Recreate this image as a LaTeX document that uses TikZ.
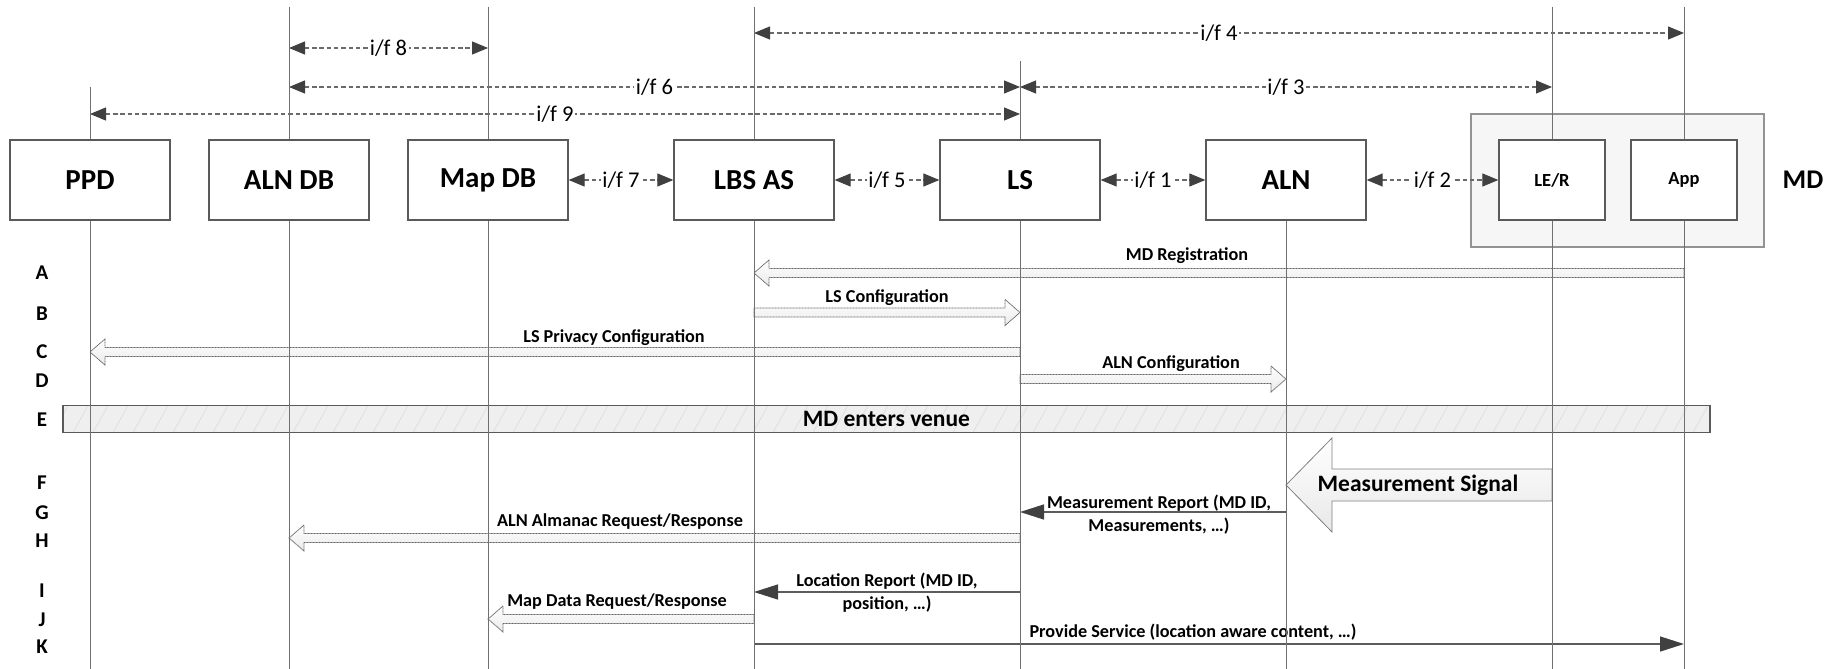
\documentclass[tikz,border=0pt]{standalone}
\usepackage{fontspec}
\setmainfont{Carlito}
\usetikzlibrary{arrows.meta,calc}

\definecolor{edge}{HTML}{5A5A5A}
\definecolor{life}{HTML}{707070}
\definecolor{msgline}{HTML}{5C5C5C}
\definecolor{tipgray}{HTML}{404040}
\definecolor{dashgray}{HTML}{6A6A6A}
\definecolor{mdfill}{HTML}{F6F6F6}
\definecolor{barfill}{HTML}{EFEFEF}

% hollow block arrow between two points at the same height:
% [style]{tail}{tip}{shaft half height}{head half height}{head length}
\newcommand\blockmsg[6][]{%
  \path[#1] let \p1=#2, \p2=#3, \p3=($#3!#6!#2$) in
    (\x1,{\y1+#4}) -- (\x3,{\y1+#4}) -- (\x3,{\y1+#5}) -- (\x2,\y2)
    -- (\x3,{\y1-#5}) -- (\x3,{\y1-#4}) -- (\x1,{\y1-#4}) -- cycle;}

\begin{document}
\begin{tikzpicture}[x=1pt,y=-1pt,
  entity/.style={draw=edge, line width=1.3pt, fill=white, minimum width=160pt,
    minimum height=80pt, inner sep=0pt, font=\bfseries\fontsize{29}{32}\selectfont},
  subentity/.style={entity, minimum width=106pt, font=\bfseries\fontsize{18.5}{21}\selectfont},
  mdbox/.style={draw=gray!85, line width=1.2pt, fill=mdfill, minimum width=293pt,
    minimum height=133pt, inner sep=0pt},
  mdlabel/.style={font=\bfseries\fontsize{27}{30}\selectfont, inner sep=0pt},
  lifeline/.style={draw=life, line width=1pt},
  ifarrow/.style={draw=dashgray, line width=1.1pt, dash pattern=on 4.5pt off 2.8pt,
    {Triangle[length=16pt,width=13pt,color=tipgray]}-{Triangle[length=16pt,width=13pt,color=tipgray]}},
  iflabel/.style={fill=white, inner sep=1.5pt, font=\fontsize{22.5}{24}\selectfont},
  rowlabel/.style={font=\bfseries\fontsize{21}{24}\selectfont, inner sep=0pt},
  msglabel/.style={font=\bfseries\fontsize{18.2}{23}\selectfont, align=center, inner sep=0pt},
  biglabel/.style={font=\bfseries\fontsize{23.5}{26}\selectfont, inner sep=0pt},
  msg/.style={draw=msgline, line width=1.4pt, -{Triangle[length=24pt,width=15pt,color=tipgray]}},
  block/.style={draw=black!60, line width=0.8pt, dash pattern=on 1pt off 0.5pt,
    top color=white, bottom color=gray!16},
  bigblock/.style={draw=black!50, line width=0.8pt, top color=white, bottom color=gray!18},
  venue/.style={draw=edge, line width=1.2pt, fill=barfill, minimum width=1647pt,
    minimum height=27pt, inner sep=0pt, font=\bfseries\fontsize{23.5}{26}\selectfont,
    path picture={\foreach \k in {0,...,84}{\draw[gray!25, line width=0.8pt]
      ([xshift=\k*20pt-10pt]path picture bounding box.south west) -- ++(15pt,27pt);}}},
]
\useasboundingbox (0,0) rectangle (1837,669);

% reference heights
\coordinate (top) at (0,7);
\coordinate (bot) at (0,669);
\coordinate (ppdtop) at (0,87);
\coordinate (lstop) at (0,61);
\coordinate (if4) at (0,33);
\coordinate (if8) at (0,48);
\coordinate (if63) at (0,87);
\coordinate (if9) at (0,114);
\coordinate (rA) at (0,273);
\coordinate (rB) at (0,312.5);
\coordinate (rC) at (0,352);
\coordinate (rD) at (0,379);
\coordinate (rF) at (0,485);
\coordinate (rG) at (0,512);
\coordinate (rH) at (0,538);
\coordinate (rI) at (0,592);
\coordinate (rJ) at (0,619);
\coordinate (rK) at (0,644);

% entities
\node[mdbox] (md) at (1617.5,180.5) {};
\node[entity] (ppd) at (90,180) {PPD};
\node[entity] (alndb) at (289,180) {ALN DB};
\node[entity] (mapdb) at (488,180) {Map DB};
\node[entity] (lbsas) at (754,180) {LBS AS};
\node[entity] (ls) at (1020,180) {LS};
\node[entity] (aln) at (1286,180) {ALN};
\node[subentity] (ler) at (1552,180) {LE/R};
\node[subentity] (app) at (1684,180) {App};
\node[mdlabel] (mdname) at (1803,180) {MD};

% interfaces
\draw[ifarrow] (lbsas |- if4) -- node[iflabel] {i/f 4} (app |- if4);
\draw[ifarrow] (alndb |- if8) -- node[iflabel] {i/f 8} (mapdb |- if8);
\draw[ifarrow] (alndb |- if63) -- node[iflabel] {i/f 6} (ls |- if63);
\draw[ifarrow] (ls |- if63) -- node[iflabel] {i/f 3} (ler |- if63);
\draw[ifarrow] (ppd |- if9) -- node[iflabel] {i/f 9} (ls |- if9);
\draw[ifarrow] (mapdb.east) -- node[iflabel] {i/f 7} (lbsas.west);
\draw[ifarrow] (lbsas.east) -- node[iflabel] {i/f 5} (ls.west);
\draw[ifarrow] (ls.east) -- node[iflabel] {i/f 1} (aln.west);
\draw[ifarrow] (aln.east) -- node[iflabel] {i/f 2} (ler.west);

% step letters
\foreach \l/\y in {A/273,B/314,C/352,D/381,E/420,F/483,G/513,H/541,I/591,J/620,K/647}
  \node[rowlabel] (row\l) at (42,\y) {\l};

% A-D: registration and configuration
\blockmsg[block]{(app |- rA)}{(lbsas |- rA)}{4.5pt}{13pt}{15pt}
\node[msglabel] (lblA) at (1187,256) {MD Registration};
\blockmsg[block]{(lbsas |- rB)}{(ls |- rB)}{4.5pt}{13pt}{15pt}
\node[msglabel] (lblB) at (887,298) {LS Configuration};
\blockmsg[block]{(ls |- rC)}{(ppd |- rC)}{4.5pt}{13pt}{15pt}
\node[msglabel] (lblC) at (614,338) {LS Privacy Configuration};
\blockmsg[block]{(ls |- rD)}{(aln |- rD)}{4.5pt}{13pt}{15pt}
\node[msglabel] (lblD) at (1171,364) {ALN Configuration};

% E: venue bar
\node[venue] (venue) at (886.5,419) {MD enters venue};

% F-K: positioning flow
\blockmsg[bigblock]{(ler |- rF)}{(aln |- rF)}{16pt}{47pt}{46pt}
\node[biglabel] (lblF) at (1418,485) {Measurement Signal};
\draw[msg] (aln |- rG) -- (ls |- rG);
\node[msglabel] (lblG) at (1159,515) {Measurement Report (MD ID,\\Measurements, …)};
\blockmsg[block]{(ls |- rH)}{(alndb |- rH)}{4.5pt}{13pt}{15pt}
\node[msglabel] (lblH) at (620,522) {ALN Almanac Request/Response};
\draw[msg] (ls |- rI) -- (lbsas |- rI);
\node[msglabel] (lblI) at (887,593) {Location Report (MD ID,\\position, …)};
\blockmsg[block]{(lbsas |- rJ)}{(mapdb |- rJ)}{4.5pt}{13pt}{15pt}
\node[msglabel] (lblJ) at (617,602) {Map Data Request/Response};
\draw[msg] (lbsas |- rK) -- (app |- rK);
\node[msglabel] (lblK) at (1193,632) {Provide Service (location aware content, …)};

% lifelines
\draw[lifeline] (ppd |- ppdtop) -- (ppd.north);
\draw[lifeline] (alndb |- top) -- (alndb.north);
\draw[lifeline] (mapdb |- top) -- (mapdb.north);
\draw[lifeline] (lbsas |- top) -- (lbsas.north);
\draw[lifeline] (ls |- lstop) -- (ls.north);
\draw[lifeline] (ler |- top) -- (ler.north);
\draw[lifeline] (app |- top) -- (app.north);
\foreach \n in {ppd,alndb,mapdb,lbsas,ls,aln,ler,app}
  \draw[lifeline] (\n.south) -- (\n |- bot);
\end{tikzpicture}
\end{document}
